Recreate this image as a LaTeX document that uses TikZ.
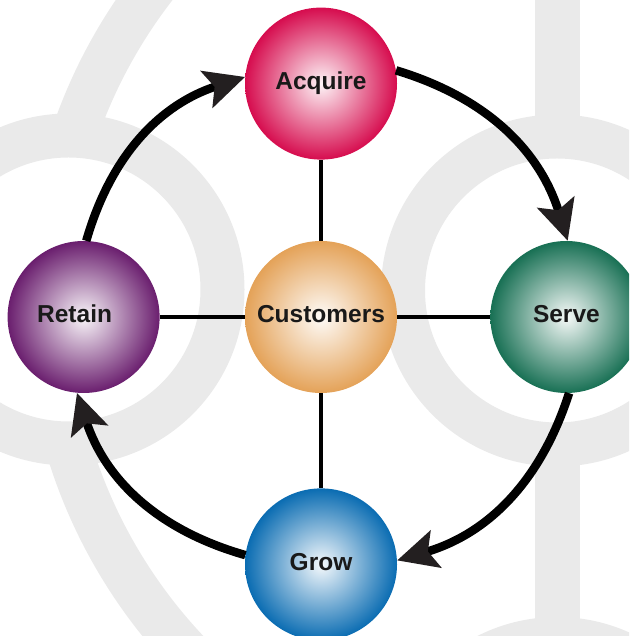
\documentclass[tikz,border=0pt]{standalone}
\usepackage{fontspec}
\setmainfont{Liberation Sans}
\usetikzlibrary{arrows.meta, positioning}

\definecolor{bandgray}{RGB}{234,234,234}
\definecolor{arrowgray}{RGB}{35,31,32}
\definecolor{crimson}{RGB}{214,12,78}
\definecolor{apricot}{RGB}{228,162,88}
\definecolor{plum}{RGB}{106,30,110}
\definecolor{pine}{RGB}{24,112,84}
\definecolor{ocean}{RGB}{10,108,178}

\begin{document}
\begin{tikzpicture}
        [
            x=1pt, y=1pt,
            ball/.style={circle, minimum size=152pt, inner sep=0pt,
                         inner color=#1!4, outer color=#1},
            tag/.style={font=\fontsize{24.5}{28}\selectfont\bfseries,
                        text=black!90, text height=18pt, text depth=6pt},
            ring/.style={draw=bandgray, line width=44pt, fill=white},
            spoke/.style={line width=4pt},
            flow/.style={draw=black, line width=8.5pt, bend left=28,
                         -{Stealth[length=40pt, width=38pt, inset=8pt, color=arrowgray]}}
        ]
        \useasboundingbox (0,0) rectangle (629,636);
        \clip (0,0) rectangle (629,636);
        % background pattern
        \draw [bandgray, line width=46pt] (560,336) circle (513pt);
        \fill [bandgray] (535,0) rectangle (580,636);
        \foreach \c in {(68.5,346.5), (557,345.5), (557,-157)}
            \draw [ring] \c circle (154pt);
        % the five balls
        \node (customers) [ball=apricot, tag] at (321,319) {Customers};
        \node (acquire) [ball=crimson, tag, above=81pt of customers] {Acquire};
        \node (grow) [ball=ocean, tag, below=95pt of customers] {Grow};
        \node (serve) [ball=pine, tag, right=93pt of customers] {Serve};
        \node (retain) [ball=plum, left=85pt of customers,
                        label={[tag, xshift=-9pt]center:Retain}] {};
        \foreach \n in {acquire, serve, grow, retain}
            \draw [spoke] (customers) -- (\n);
        % the cycle
        \draw [flow] (acquire.10) to (serve.89);
        \draw [flow] (serve.-88) to (grow.3);
        \draw [flow] (grow.173) to (retain.265);
        \draw [flow] (retain.88) to (acquire.175);
\end{tikzpicture}
\end{document}
